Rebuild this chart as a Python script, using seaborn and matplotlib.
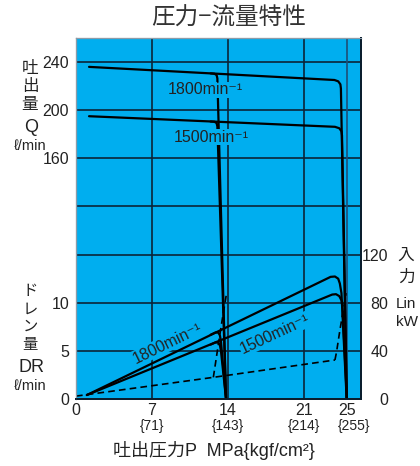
import numpy as np
import pandas as pd
import matplotlib
matplotlib.use("Agg")
import matplotlib.pyplot as plt
import seaborn as sns

# ---------------- data ----------------
# flow Q [l/min] vs pressure P [MPa]
q1800_p = [1.2, 23.8, 24.15, 24.35, 24.4, 24.93]
q1800_q = [236, 225.1, 224.0, 221.5, 218, -40]
q1500_p = [1.2, 23.85, 24.25, 24.45, 24.5, 24.95]
q1500_q = [195, 186.2, 185.0, 182.5, 179, -40]
q1800b_p = [12.4, 12.75, 12.95, 13.02, 13.82]
q1800b_q = [230.6, 230.3, 229.2, 226.5, -40]
q1500b_p = [12.4, 12.75, 12.95, 13.02, 13.82]
q1500b_q = [190.6, 190.4, 189.3, 186.5, -40]
# input power Lin [kW]
w1800_p = [1.0, 23.45, 23.85, 24.15, 24.3, 24.45, 24.93]
w1800_w = [3.3, 101.5, 101.8, 100.0, 96, 88, 0]
w1500_p = [1.0, 23.6, 23.95, 24.25, 24.45, 24.55, 24.95]
w1500_w = [3.3, 86.8, 87.1, 85.5, 82, 76, 0]
w1800b_p = [12.4, 12.85, 13.1, 13.25, 13.35, 13.82]
w1800b_w = [53.4, 55.3, 55.2, 53, 48, 0]
w1500b_p = [12.4, 12.85, 13.1, 13.25, 13.35, 13.82]
w1500b_w = [45.2, 47.0, 46.9, 45, 40, 0]
# drain DR [l/min]
dr_p = [0, 12.65, 23.85]
dr_v = [0.3, 2.25, 4.05]
drb1_p = [12.65, 12.8, 13.1, 13.42, 13.87]
drb1_v = [2.25, 3.35, 5.6, 7.9, 11.0]
drb2_p = [23.85, 24.0, 24.31, 24.62, 24.87]
drb2_v = [4.05, 4.9, 7.17, 9.25, 11.0]

x_ticks = [0, 7, 14, 21, 25]
x_sub_labels = ["{71}", "{143}", "{214}", "{255}"]
x_sub_pos = [7, 14, 21, 25.6]
q_ticks = [160, 200, 240]
dr_ticks = [0, 5, 10]
w_ticks = [0, 40, 80, 120]

# ---------------- style ----------------
sns.set_style("white")
plt.rcParams["font.family"] = ["Liberation Sans", "Noto Sans CJK JP", "DejaVu Sans"]
CJK = ["Noto Sans CJK JP", "DejaVu Sans"]
MIX = ["Liberation Sans", "Noto Sans CJK JP", "DejaVu Sans"]
BLUE = "#00AEEF"
GRID = "#0c2438"
TXT = "#222222"

W, H = 420, 466
fig = plt.figure(figsize=(W / 100, H / 100), dpi=100)
L, R, T, B = 76, 361, 38, 399
ax = fig.add_axes([L / W, (H - B) / H, (R - L) / W, (B - T) / H])
ax.set_facecolor(BLUE)
axd = ax.twinx()
axp = ax.twinx()

ax.set_xlim(0, 26.25)
ax.set_ylim(-40, 260)
axd.set_ylim(0, 37.5)
axp.set_ylim(0, 300)

# grid
grid_y = [0, 40, 80, 120, 160, 200, 240]
for gy in grid_y:
    ax.axhline(gy, color=GRID, lw=1.2, zorder=1)
for gx in [7, 14, 21]:
    ax.axvline(gx, color=GRID, lw=1.2, zorder=1)
ax.axvline(25, color="#1d4e78", lw=1.2, zorder=1)

ax.set_yticks(q_ticks)
ax.set_xticks(x_ticks)
ax.set_xticklabels([str(v) for v in x_ticks])
ax.tick_params(axis="both", length=0, labelsize=11.5, colors=TXT)
ax.tick_params(axis="y", pad=5)
ax.tick_params(axis="x", pad=3)

axd.yaxis.tick_left()
axd.set_yticks(dr_ticks)
axd.tick_params(axis="y", length=0, labelsize=11.5, colors=TXT, pad=5)

axp.set_yticks(w_ticks)
axp.tick_params(axis="y", length=0, labelsize=11.5, colors=TXT, pad=19.5)
for t in axp.get_yticklabels():
    t.set_horizontalalignment("right")

for a in (ax, axd, axp):
    for s in ("top", "left"):
        a.spines[s].set_color("#8c9ba8")
        a.spines[s].set_linewidth(0.8)
    for s in ("bottom", "right"):
        a.spines[s].set_color("#0b1e2e")
        a.spines[s].set_linewidth(1.3)

# curves
def draw(a, xs, ys, **kw):
    df = pd.DataFrame({"P": xs, "v": ys})
    sns.lineplot(data=df, x="P", y="v", ax=a, sort=False, estimator=None,
                 color="black", **kw)

for xs, ys in [(q1800_p, q1800_q), (q1500_p, q1500_q),
               (q1800b_p, q1800b_q), (q1500b_p, q1500b_q)]:
    draw(ax, xs, ys, lw=1.6)
for xs, ys in [(w1800_p, w1800_w), (w1500_p, w1500_w),
               (w1800b_p, w1800b_w), (w1500b_p, w1500b_w)]:
    draw(axp, xs, ys, lw=1.6)
for xs, ys in [(dr_p, dr_v), (drb1_p, drb1_v), (drb2_p, drb2_v)]:
    draw(axd, xs, ys, lw=1.2, linestyle=(0, (4, 2.5)))

for a in (ax, axd, axp):
    a.set_xlabel("")
    a.set_ylabel("")
ax.set_xlim(0, 26.25)

# curve labels (pixel positions)
def px(x, y):
    return x / W, 1 - y / H

bb = dict(boxstyle="square,pad=0.05", fc=BLUE, ec="none")
for s, (x, y), rot in [("1800min⁻¹", (205, 90), 0), ("1500min⁻¹", (211, 137), 0),
                       ("1800min⁻¹", (168, 343), 26), ("1500min⁻¹", (275, 334), 25)]:
    fig.text(*px(x, y), s, ha="center", va="center", rotation=rot, fontsize=11.5,
             color=TXT, bbox=bb, zorder=10, rotation_mode="anchor")

# x sub labels
for lab, xp in zip(x_sub_labels, x_sub_pos):
    ax.text(xp, -(426 - B) / (B - T), lab, transform=ax.get_xaxis_transform(),
            ha="center", va="center", fontsize=10, color=TXT)

# axis texts
fig.text(*px(229, 18), "圧力−流量特性", ha="center", va="center", fontsize=17,
         color="#333333", family=CJK)
fig.text(*px(214, 450), "吐出圧力P  MPa{kgf/cm²}", ha="center", va="center",
         fontsize=13, color=TXT, family=MIX)
for ch, y in [("吐", 68), ("出", 87), ("量", 105)]:
    fig.text(*px(30, y), ch, ha="center", va="center", fontsize=12, color=TXT, family=CJK)
fig.text(*px(31, 128), "Q", ha="center", va="center", fontsize=13, color=TXT)
fig.text(*px(30, 146), "ℓ/min", ha="center", va="center", fontsize=10.5, color=TXT)
for ch, y in [("ド", 291), ("レ", 309), ("ン", 326), ("量", 344)]:
    fig.text(*px(30, y), ch, ha="center", va="center", fontsize=11, color=TXT, family=CJK)
fig.text(*px(31, 368), "DR", ha="center", va="center", fontsize=13, color=TXT)
fig.text(*px(30, 386), "ℓ/min", ha="center", va="center", fontsize=10.5, color=TXT)
fig.text(*px(406, 255), "入", ha="center", va="center", fontsize=12, color=TXT, family=CJK)
fig.text(*px(406, 277), "力", ha="center", va="center", fontsize=12, color=TXT, family=CJK)
fig.text(*px(396, 304), "Lin", ha="left", va="center", fontsize=11, color=TXT)
fig.text(*px(396, 322), "kW", ha="left", va="center", fontsize=11, color=TXT)

fig.savefig("out.png", dpi=100)
